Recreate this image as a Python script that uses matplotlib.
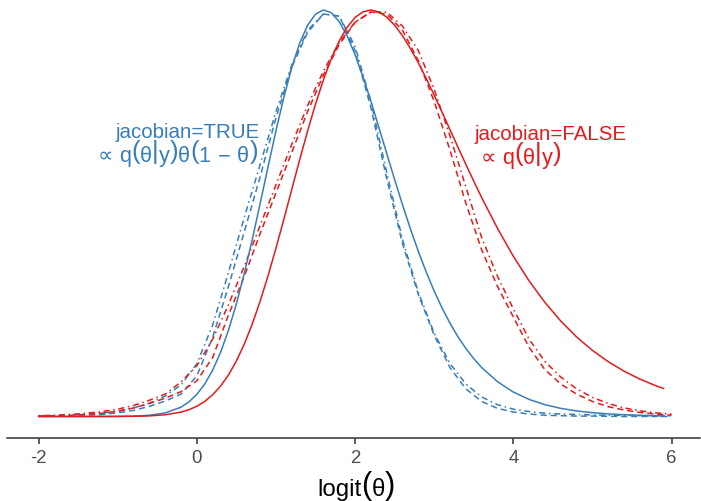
import matplotlib
matplotlib.use("Agg")
import matplotlib.pyplot as plt

plt.rcParams['font.family'] = ['Liberation Sans', 'DejaVu Sans']

# Exact densities on the logit scale, each scaled to a peak of 1
x_exact = [-2.0, -1.8, -1.6, -1.4, -1.2, -1.0, -0.8, -0.6, -0.4, -0.2,
           -0.1, 0.0, 0.1, 0.2, 0.3, 0.4, 0.5, 0.6, 0.7, 0.8, 0.9, 1.0,
           1.1, 1.2, 1.3, 1.4, 1.5, 1.6, 1.7, 1.8, 1.9, 2.0, 2.1, 2.2,
           2.3, 2.4, 2.5, 2.6, 2.7, 2.8, 2.9, 3.0, 3.1, 3.2, 3.3, 3.4,
           3.5, 3.6, 3.8, 4.0, 4.2, 4.4, 4.6, 4.8, 5.0, 5.2, 5.4, 5.6,
           5.8, 5.9]
jac_true_exact = [0.0, 0.0, 0.000003, 0.000013, 0.000058, 0.000236, 0.00087,
                  0.0029, 0.0087, 0.0230, 0.0359, 0.0544, 0.0800, 0.1141,
                  0.1579, 0.2124, 0.2774, 0.3523, 0.4354, 0.5239, 0.6144,
                  0.7030, 0.7856, 0.8584, 0.9186, 0.9625, 0.9899, 1.0000,
                  0.9932, 0.9711, 0.9360, 0.8900, 0.8355, 0.7755, 0.7118,
                  0.6470, 0.5827, 0.5205, 0.4613, 0.4059, 0.3549, 0.3084,
                  0.2666, 0.2293, 0.1963, 0.1674, 0.1422, 0.1204, 0.0856,
                  0.0601, 0.0419, 0.0290, 0.0200, 0.0137, 0.0093, 0.0064,
                  0.0043, 0.0029, 0.0020, 0.0016]
jac_false_exact = [0.0, 0.0, 0.000002, 0.00001, 0.00004, 0.00014, 0.00047,
                   0.0015, 0.0042, 0.0108, 0.0167, 0.0252, 0.0371, 0.0534,
                   0.0748, 0.1023, 0.1367, 0.1783, 0.2274, 0.2836, 0.3462,
                   0.4141, 0.4855, 0.5588, 0.6320, 0.7024, 0.7685, 0.8285,
                   0.8806, 0.9239, 0.9577, 0.9817, 0.9955, 1.0000, 0.9953,
                   0.9826, 0.9626, 0.9365, 0.9052, 0.8698, 0.8313, 0.7905,
                   0.7484, 0.7056, 0.6627, 0.6204, 0.5789, 0.5386, 0.4628,
                   0.3943, 0.3335, 0.2805, 0.2348, 0.1957, 0.1626, 0.1348,
                   0.1114, 0.0920, 0.0758, 0.0688]

# Approximate densities (two approximations per case)
x_approx = [-2.0, -1.8, -1.6, -1.4, -1.2, -1.0, -0.8, -0.6, -0.4, -0.2,
            0.0, 0.2, 0.4, 0.6, 0.8, 1.0, 1.2, 1.4, 1.6, 1.8, 2.0, 2.2,
            2.4, 2.6, 2.8, 3.0, 3.2, 3.4, 3.6, 3.8, 4.0, 4.2, 4.4, 4.6,
            4.8, 5.0, 5.2, 5.4, 5.6, 5.8, 6.0]
jac_true_dashed = [0.0005, 0.001, 0.002, 0.003, 0.005, 0.009, 0.015, 0.025,
                   0.038, 0.055, 0.100, 0.195, 0.320, 0.455, 0.590, 0.735,
                   0.860, 0.945, 0.990, 0.985, 0.900, 0.760, 0.585, 0.425,
                   0.300, 0.200, 0.120, 0.068, 0.037, 0.020, 0.011, 0.006,
                   0.003, 0.002, 0.001, 0.001, 0.0005, 0.0, 0.0, 0.0, 0.0]
jac_true_dotdash = [0.001, 0.002, 0.003, 0.005, 0.008, 0.013, 0.021, 0.033,
                    0.050, 0.078, 0.130, 0.225, 0.355, 0.490, 0.620, 0.750,
                    0.865, 0.950, 0.990, 0.985, 0.910, 0.775, 0.600, 0.435,
                    0.305, 0.205, 0.130, 0.080, 0.048, 0.029, 0.018, 0.012,
                    0.008, 0.006, 0.005, 0.004, 0.003, 0.003, 0.002, 0.002,
                    0.001]
jac_false_dashed = [0.001, 0.002, 0.003, 0.005, 0.008, 0.013, 0.021, 0.032,
                    0.045, 0.061, 0.088, 0.145, 0.250, 0.345, 0.450, 0.550,
                    0.650, 0.750, 0.840, 0.915, 0.970, 0.995, 0.990, 0.950,
                    0.875, 0.775, 0.655, 0.525, 0.410, 0.320, 0.245, 0.170,
                    0.115, 0.080, 0.055, 0.037, 0.024, 0.016, 0.010, 0.006,
                    0.003]
jac_false_dotdash = [0.002, 0.003, 0.005, 0.008, 0.012, 0.018, 0.027, 0.040,
                     0.055, 0.085, 0.125, 0.190, 0.275, 0.370, 0.470, 0.570,
                     0.670, 0.765, 0.850, 0.920, 0.970, 0.995, 0.995, 0.960,
                     0.900, 0.805, 0.690, 0.565, 0.440, 0.345, 0.265, 0.190,
                     0.135, 0.097, 0.068, 0.047, 0.032, 0.021, 0.014, 0.009,
                     0.006]

x_ticks = [-2, 0, 2, 4, 6]
x_tick_labels = ['-2', '0', '2', '4', '6']

BLUE = '#377EB8'
RED = '#E41A1C'
LW = 1.1
DASHED = (4, 2.6)
DOTDASH = (1, 2.4, 4, 2.4)

W, H = 701, 501
fig = plt.figure(figsize=(W / 100, H / 100), dpi=100)

# panel placed in pixel units (top-left origin)
left_px, right_px, top_px, bottom_px = 7, 700, 0, 437.7
ax = fig.add_axes([left_px / W, 1 - bottom_px / H,
                   (right_px - left_px) / W, (bottom_px - top_px) / H])
ax.set_xlim(-2.4, 6.36)
ax.set_ylim(-0.0522, 1.0246)

ax.plot(x_approx, jac_true_dotdash, color=BLUE, lw=LW, dashes=DOTDASH)
ax.plot(x_approx, jac_true_dashed, color=BLUE, lw=LW, dashes=DASHED)
ax.plot(x_approx, jac_false_dotdash, color=RED, lw=LW, dashes=DOTDASH)
ax.plot(x_approx, jac_false_dashed, color=RED, lw=LW, dashes=DASHED)
ax.plot(x_exact, jac_true_exact, color=BLUE, lw=LW)
ax.plot(x_exact, jac_false_exact, color=RED, lw=LW)

for side in ('left', 'right', 'top'):
    ax.spines[side].set_visible(False)
ax.spines['bottom'].set_color('#333333')
ax.spines['bottom'].set_linewidth(1.1)
ax.set_yticks([])
ax.set_xticks(x_ticks)
ax.set_xticklabels(x_tick_labels)
ax.tick_params(axis='x', length=4, width=1.1, color='#333333',
               labelcolor='#4D4D4D', labelsize=13.4, pad=5)

renderer = fig.canvas.get_renderer()


def runs_text(x_px, base_px, runs, color, align='left'):
    """Lay out text pieces of mixed size on one baseline (pixel coords, top origin).

    Each run is (text, fontsize, lift_px, gap_after_px)."""
    arts = []
    for s, size, lift, gap in runs:
        t = fig.text(0, 0, s, fontsize=size, color=color,
                     va='baseline', ha='left')
        arts.append((t, lift, gap))
    widths = [t.get_window_extent(renderer).width + gap for t, _, gap in arts]
    total = sum(widths)
    if align == 'right':
        x = x_px - total
    elif align == 'center':
        x = x_px - total / 2
    else:
        x = x_px
    for (t, lift, _), w in zip(arts, widths):
        t.set_position((x / W, (H - base_px + lift) / H))
        x += w


TS = 14.8   # annotation text size
MS = 15.6   # expression text size
BS = 18.5   # enlarged delimiters

runs_text(260, 137.5, [('jacobian=TRUE', TS, 0, 0)], BLUE, 'right')
runs_text(258, 162, [('∝', MS, 0, 6), ('q', MS, 0, 0), ('(', BS, 3, 0),
                     ('θ', MS, 0, 0), ('|', BS, 3, 0), ('y', MS, 0, 0),
                     (')', BS, 3, 0), ('θ', MS, 0, 0), ('(', BS, 3, 0),
                     ('1', MS, 0, 7), ('−', MS, 0, 7), ('θ', MS, 0, 0),
                     (')', BS, 3, 0)], BLUE, 'right')

runs_text(475, 140, [('jacobian=FALSE', TS, 0, 0)], RED, 'left')
runs_text(481, 164, [('∝', MS, 0, 6), ('q', MS, 0, 0), ('(', BS, 3, 0),
                     ('θ', MS, 0, 0), ('|', BS, 3, 0), ('y', MS, 0, 0),
                     (')', BS, 3, 0)], RED, 'left')

# axis title
runs_text(356, 496, [('logit', 17.4, 0, 0), ('(', 22, 2.2, 0),
                     ('θ', 17.4, 0, 0), (')', 22, 2.2, 0)], 'black', 'center')

fig.savefig('out.png', dpi=100)
